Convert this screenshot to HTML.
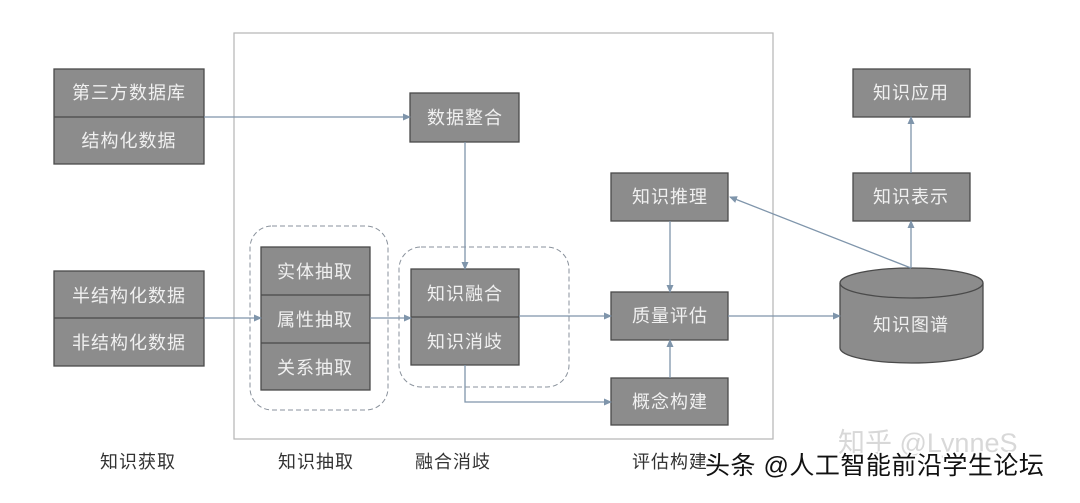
<!DOCTYPE html>
<html><head><meta charset="utf-8"><style>
body{margin:0;background:#fff;}
svg text{font-family:"Liberation Sans","Noto Sans CJK SC",sans-serif;}
</style></head><body>
<svg width="1080" height="498" viewBox="0 0 1080 498" xmlns="http://www.w3.org/2000/svg">
<defs><marker id="a" markerWidth="8" markerHeight="8" refX="7" refY="4" orient="auto" markerUnits="userSpaceOnUse"><path d="M0,0.5 L8,4 L0,7.5 Z" fill="#7f95ab"/></marker></defs>
<rect x="234" y="33" width="539" height="406" fill="none" stroke="#b5b5b5" stroke-width="1.2"/>
<rect x="250" y="226" width="138" height="184" rx="22" fill="none" stroke="#8a929c" stroke-dasharray="5,3"/>
<rect x="399" y="247" width="170" height="140" rx="22" fill="none" stroke="#8a929c" stroke-dasharray="5,3"/>
<g fill="#8c8c8c" stroke="#4a4a4a" stroke-width="1.3">
<rect x="54" y="69" width="150" height="95"/><line x1="54" y1="117" x2="204" y2="117"/>
<rect x="54" y="271" width="150" height="95"/><line x1="54" y1="318" x2="204" y2="318"/>
<rect x="410" y="93" width="109" height="49"/>
<rect x="261" y="247" width="109" height="143"/><line x1="261" y1="295" x2="370" y2="295"/><line x1="261" y1="343" x2="370" y2="343"/>
<rect x="411" y="269" width="108" height="96"/><line x1="411" y1="317" x2="519" y2="317"/>
<rect x="611" y="173" width="117" height="48"/>
<rect x="611" y="292" width="117" height="48"/>
<rect x="611" y="378" width="117" height="47"/>
<rect x="853" y="173" width="117" height="48"/>
<rect x="853" y="69" width="117" height="48"/>
<path d="M840,283 L840,348 A71.5,15 0 0 0 983,348 L983,283"/>
<ellipse cx="911.5" cy="283" rx="71.5" ry="15"/>
</g>
<g stroke="#7f95ab" stroke-width="1.3" fill="none">
<line x1="204" y1="117" x2="410" y2="117" marker-end="url(#a)"/>
<line x1="465" y1="142" x2="465" y2="269" marker-end="url(#a)"/>
<line x1="204" y1="318" x2="261" y2="318" marker-end="url(#a)"/>
<line x1="370" y1="318" x2="411" y2="318" marker-end="url(#a)"/>
<line x1="519" y1="316" x2="611" y2="316" marker-end="url(#a)"/>
<polyline points="465,365 465,402 611,402" marker-end="url(#a)"/>
<line x1="670" y1="221" x2="670" y2="292" marker-end="url(#a)"/>
<line x1="670" y1="378" x2="670" y2="340" marker-end="url(#a)"/>
<line x1="728" y1="316" x2="840" y2="316" marker-end="url(#a)"/>
<line x1="911" y1="268" x2="730" y2="197" marker-end="url(#a)"/>
<line x1="911" y1="268" x2="911" y2="221" marker-end="url(#a)"/>
<line x1="911" y1="173" x2="911" y2="117" marker-end="url(#a)"/>
</g>
<g fill="#f0f0f0" font-size="18" text-anchor="middle" letter-spacing="1">
<text x="129" y="99">第三方数据库</text><text x="129" y="147">结构化数据</text>
<text x="129" y="302">半结构化数据</text><text x="129" y="349">非结构化数据</text>
<text x="465" y="124">数据整合</text>
<text x="315" y="278">实体抽取</text><text x="315" y="326">属性抽取</text><text x="315" y="374">关系抽取</text>
<text x="465" y="300">知识融合</text><text x="465" y="348">知识消歧</text>
<text x="670" y="203">知识推理</text><text x="670" y="322">质量评估</text><text x="670" y="408">概念构建</text>
<text x="911" y="203">知识表示</text><text x="911" y="99">知识应用</text>
<text x="911" y="331">知识图谱</text>
</g>
<g fill="#333" font-size="18" text-anchor="middle" letter-spacing="1">
<text x="138" y="468">知识获取</text><text x="316" y="468">知识抽取</text><text x="453" y="468">融合消歧</text><text x="670" y="468">评估构建</text>
</g>
<text x="838" y="452" font-size="27" fill="#d8d8d8">知乎 @LynneS</text>
<text x="705" y="474" font-size="25" fill="#111" stroke="#fff" stroke-width="3" paint-order="stroke" letter-spacing="0.5">头条 @人工智能前沿学生论坛</text>
</svg>
</body></html>
